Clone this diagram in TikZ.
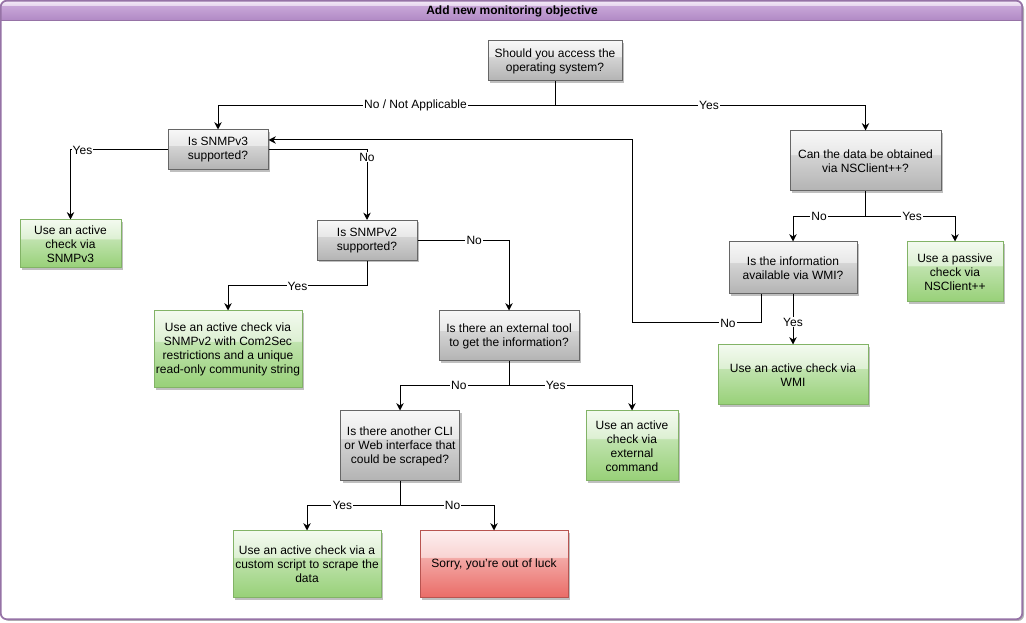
\documentclass[tikz,border=0pt]{standalone}
\usepackage{fontspec}
\setmainfont{Liberation Sans}
\usepackage{tikz}
\usetikzlibrary{arrows.meta,shadows}
\definecolor{askline}{HTML}{666666}
\definecolor{asktop}{HTML}{F7F7F7}
\definecolor{askhi}{HTML}{E8E8E8}
\definecolor{askmid}{HTML}{D4D4D4}
\definecolor{askbot}{HTML}{B3B3B3}
\definecolor{okline}{HTML}{82B366}
\definecolor{oktop}{HTML}{F3FAEF}
\definecolor{okhi}{HTML}{DDF0D3}
\definecolor{okmid}{HTML}{C0E3AE}
\definecolor{okbot}{HTML}{97D077}
\definecolor{badline}{HTML}{B85450}
\definecolor{badtop}{HTML}{FDEEEE}
\definecolor{badhi}{HTML}{F9D4D3}
\definecolor{badmid}{HTML}{F3A9A6}
\definecolor{badbot}{HTML}{EA6B66}
\definecolor{frameline}{HTML}{9673A6}
\definecolor{titletop}{HTML}{F4EAF7}
\definecolor{titlehi}{HTML}{E6D6EE}
\definecolor{titlemid}{HTML}{C8A6D8}
\definecolor{titlebot}{HTML}{B088C4}
% glass look: lighter top part, step, then darker gradient
\pgfdeclareverticalshading{askglass}{100bp}{color(0bp)=(askbot); color(25bp)=(askbot);
  color(55bp)=(askmid); color(55.5bp)=(askhi); color(75bp)=(asktop); color(100bp)=(asktop)}
\pgfdeclareverticalshading{okglass}{100bp}{color(0bp)=(okbot); color(25bp)=(okbot);
  color(55bp)=(okmid); color(55.5bp)=(okhi); color(75bp)=(oktop); color(100bp)=(oktop)}
\pgfdeclareverticalshading{badglass}{100bp}{color(0bp)=(badbot); color(25bp)=(badbot);
  color(55bp)=(badmid); color(55.5bp)=(badhi); color(75bp)=(badtop); color(100bp)=(badtop)}
\pgfdeclareverticalshading{titleglass}{100bp}{color(0bp)=(titlebot); color(25bp)=(titlebot);
  color(62bp)=(titlemid); color(62.5bp)=(titlehi); color(75bp)=(titletop); color(100bp)=(titletop)}

\begin{document}
\begin{tikzpicture}[
  x=0.75pt, y=-0.75pt,
  font=\fontsize{9}{10.5}\selectfont,
  box/.style={rectangle, draw=#1line, line width=0.75pt, shading=#1glass,
              align=center, inner sep=0pt,
              drop shadow={shadow xshift=1.5pt, shadow yshift=-1.5pt,
                           fill=black, opacity=0.25}},
  askbox/.style={box=ask},
  okbox/.style={box=ok},
  badbox/.style={box=bad},
  arrow/.style={-{Stealth[length=5.5pt, width=5.5pt]}, line width=0.75pt},
  lbl/.style={fill=white, inner sep=0.8pt},
  frame/.style={rectangle, rounded corners=4.5pt, fill=white, inner sep=0pt,
                drop shadow={shadow xshift=1.5pt, shadow yshift=-1.5pt,
                             fill=black, opacity=0.3}}
]
  \useasboundingbox (0,0) rectangle (1026,623);

  % ── frame and title bar ──
  \node[frame, minimum width=765.75pt, minimum height=463.5pt] (frame) at (511.5,310) {};
  \begin{scope}
    \clip[rounded corners=4.5pt] (frame.south west) rectangle (frame.north east);
    \shade[shading=titleglass] (frame.north west) rectangle ([yshift=-15pt]frame.north east);
  \end{scope}
  \draw[frameline, line width=0.75pt] ([yshift=-15pt]frame.north west) -- ([yshift=-15pt]frame.north east);
  \draw[frameline, line width=1.3pt, rounded corners=4.5pt] (frame.south west) rectangle (frame.north east);
  \node[font=\fontsize{9}{10.5}\selectfont\bfseries] (title) at (512,11) {Add new monitoring objective};

  % ── questions ──
  \node[askbox, minimum width=100.5pt, minimum height=30pt] (access) at (555,61)
    {Should you access the\\operating system?};
  \node[askbox, minimum width=75pt, minimum height=30pt] (snmp3) at (218,150)
    {Is SNMPv3\\supported?};
  \node[askbox, minimum width=75pt, minimum height=30pt] (snmp2) at (367,240.5)
    {Is SNMPv2\\supported?};
  \node[askbox, minimum width=105pt, minimum height=37.5pt] (exttool) at (509,336)
    {Is there an external tool\\to get the information?};
  \node[askbox, minimum width=89.25pt, minimum height=52.5pt] (scrape) at (400,446)
    {Is there another CLI\\or Web interface that\\could be scraped?};
  \node[askbox, minimum width=113.25pt, minimum height=45pt] (nsclient) at (865.5,161)
    {Can the data be obtained\\via NSClient++?};
  \node[askbox, minimum width=96pt, minimum height=39pt] (wmiask) at (793,268)
    {Is the information\\available via WMI?};

  % ── outcomes ──
  \node[okbox, minimum width=75.75pt, minimum height=36pt] (viasnmp3) at (70.5,244)
    {Use an active\\check via\\SNMPv3};
  \node[okbox, minimum width=111pt, minimum height=57.75pt] (viasnmp2) at (228,349.5)
    {Use an active check via\\SNMPv2 with Com2Sec\\restrictions and a unique\\read-only community string};
  \node[okbox, minimum width=69pt, minimum height=52.5pt] (extcmd) at (632,446)
    {Use an active\\check via\\external\\command};
  \node[okbox, minimum width=111pt, minimum height=50.25pt] (script) at (307,564.5)
    {Use an active check via a\\custom script to scrape the\\data};
  \node[badbox, minimum width=111pt, minimum height=50.25pt] (nolock) at (494,564.5)
    {Sorry, you're out of luck};
  \node[okbox, minimum width=72pt, minimum height=45pt] (passive) at (955,272)
    {Use a passive\\check via\\NSClient++};
  \node[okbox, minimum width=112.5pt, minimum height=45pt] (viawmi) at (793,375)
    {Use an active check via\\WMI};

  % ── connectors ──
  \coordinate (back) at (632,323);

  \draw[arrow] (access.south) -- ++(0,24) -| node[lbl, pos=0.207] (l1) {No / Not Applicable} (snmp3.north);
  \draw[arrow] (access.south) -- ++(0,24) -| node[lbl, pos=0.248] (l2) {Yes} (nsclient.north);
  \draw[arrow] (snmp3.west) -| node[lbl, pos=0.438] (l3) {Yes} (viasnmp3.north);
  \draw[arrow] (snmp3.east) -| node[lbl, pos=0.55] (l4) {No} (snmp2.north);
  \draw[arrow] (snmp2.east) -| node[lbl, pos=0.31] (l5) {No} (exttool.north);
  \draw[arrow] (snmp2.south) -- ++(0,25) -| node[lbl, pos=0.25] (l6) {Yes} (viasnmp2.north);
  \draw[arrow] (exttool.south) -- ++(0,24) -| node[lbl, pos=0.23] (l7) {No} (scrape.north);
  \draw[arrow] (exttool.south) -- ++(0,24) -| node[lbl, pos=0.19] (l8) {Yes} (extcmd.north);
  \draw[arrow] (scrape.south) -- ++(0,24) -| node[lbl, pos=0.31] (l9) {Yes} (script.north);
  \draw[arrow] (scrape.south) -- ++(0,24) -| node[lbl, pos=0.28] (l10) {No} (nolock.north);
  \draw[arrow] (nsclient.south) -- ++(0,25) -| node[lbl, pos=0.32] (l11) {No} (wmiask.north);
  \draw[arrow] (nsclient.south) -- ++(0,25) -| node[lbl, pos=0.26] (l12) {Yes} (passive.north);
  \draw[arrow] (wmiask.south) -- node[lbl, pos=0.55] (l13) {Yes} (viawmi.north);
  \draw[arrow] ([xshift=-24pt]wmiask.south) |- node[lbl, pos=0.628] (l14) {No} (back)
    |- ([yshift=7.5pt]snmp3.east);
\end{tikzpicture}
\end{document}
